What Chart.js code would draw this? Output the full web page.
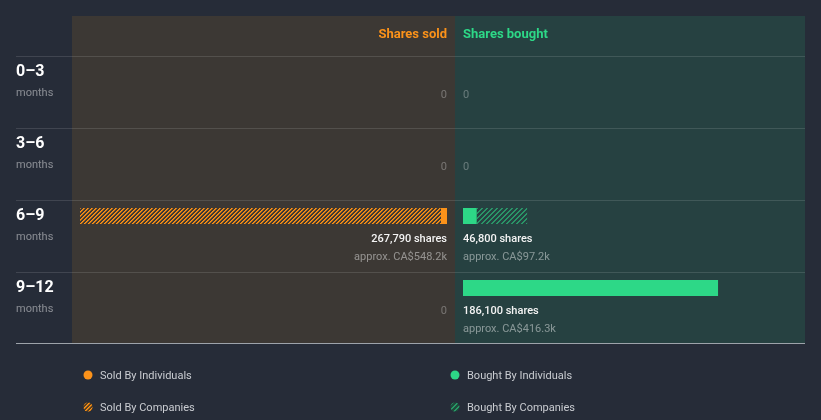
<!DOCTYPE html>
<html><head><meta charset="utf-8">
<script src="https://cdn.jsdelivr.net/npm/chart.js@4.4.1/dist/chart.umd.min.js"></script>
<style>
html,body{margin:0;padding:0;width:821px;height:420px;overflow:hidden;background:#262c38;}
#l{position:absolute;left:0;top:0;width:455px;height:420px;}
#r{position:absolute;left:440px;top:0;width:415px;height:420px;}
canvas{display:block;}
</style></head><body>
<div id="l"><canvas id="cl" width="455" height="420"></canvas></div>
<div id="r"><canvas id="cr" width="415" height="420"></canvas></div>
<script>
// ---- data ----
const periods = ['0–3', '3–6', '6–9', '9–12'];
const periodUnit = 'months';
const soldByIndividuals = [0, 0, 4400, 0];
const soldByCompanies = [0, 0, 263390, 0];
const boughtByIndividuals = [0, 0, 10000, 186100];
const boughtByCompanies = [0, 0, 36800, 0];
const soldValueCAD = [0, 0, 548200, 0];
const boughtValueCAD = [0, 0, 97200, 416300];
const legendLabels = ['Sold By Individuals', 'Sold By Companies', 'Bought By Individuals', 'Bought By Companies'];

// ---- styles ----
const ORANGE = '#fb921a';
const GREEN = '#2dd887';
const FONT = 'Roboto, "Noto Sans", sans-serif';

function makePattern(rgb, size, alphas) {
  const c = document.createElement('canvas');
  c.width = size; c.height = size;
  const g = c.getContext('2d');
  for (let k = 0; k < size; k++) {
    alphas.forEach((a, t) => {
      g.fillStyle = 'rgba(' + rgb + ',' + a + ')';
      g.fillRect((size - 1 - k + t) % size, k, 1, 1);
    });
  }
  return g.createPattern(c, 'repeat');
}
const orangeHatch = makePattern('255,146,20', 4, [1, 0.7]);
const greenHatch = makePattern('45,216,135', 5, [0.55, 0.55]);

const totalsSold = periods.map((_, i) => soldByIndividuals[i] + soldByCompanies[i]);
const totalsBought = periods.map((_, i) => boughtByIndividuals[i] + boughtByCompanies[i]);
const maxShares = Math.max(...totalsSold, ...totalsBought);

function fmtValue(v) { return 'approx. CA$' + (v / 1000).toFixed(1) + 'k'; }
function nz(arr) { return arr.map(v => (v === 0 ? null : v)); }

function decoPlugin(side) {
  const sold = side === 'sold';
  return {
    id: 'deco_' + side,
    beforeDatasetsDraw(chart) {
      const ctx = chart.ctx;
      const ys = chart.scales.y;
      const ca = chart.chartArea;
      const tops = periods.map((_, i) => ys.getPixelForValue(i) - 16);
      const panelL = ca.left - 8;
      const panelR = sold ? ca.right + 8 : ca.left + 342;
      const top = tops[0] - 40;
      const bottom = tops[3] + 71;
      ctx.save();
      ctx.fillStyle = sold ? '#3c3834' : '#264141';
      ctx.fillRect(panelL, top, panelR - panelL, bottom - top);
      // row lines
      ctx.strokeStyle = 'rgba(255,255,255,0.12)';
      ctx.lineWidth = 1;
      const lineL = sold ? 16 : panelL;
      tops.forEach(t => {
        ctx.beginPath(); ctx.moveTo(lineL, t + 0.5); ctx.lineTo(panelR, t + 0.5); ctx.stroke();
      });
      ctx.strokeStyle = '#9da3aa';
      ctx.beginPath(); ctx.moveTo(lineL, bottom + 0.5); ctx.lineTo(panelR, bottom + 0.5); ctx.stroke();
      // header
      ctx.font = 'bold 13px ' + FONT;
      ctx.textBaseline = 'middle';
      if (sold) {
        ctx.fillStyle = ORANGE; ctx.textAlign = 'right';
        ctx.fillText('Shares sold', ca.right, top + 19);
      } else {
        ctx.fillStyle = GREEN; ctx.textAlign = 'left';
        ctx.fillText('Shares bought', ca.left, top + 19);
      }
      // row labels
      if (sold) {
        ctx.textAlign = 'left';
        tops.forEach((t, i) => {
          ctx.fillStyle = '#ffffff';
          ctx.font = 'bold 16px ' + FONT;
          ctx.fillText(periods[i], 16, t + 16);
          ctx.fillStyle = 'rgba(255,255,255,0.45)';
          ctx.font = '11px ' + FONT;
          ctx.fillText(periodUnit, 16, t + 37);
        });
      }
      // legend
      const lx = sold ? 88 : 15;
      const names = sold ? [legendLabels[0], legendLabels[1]] : [legendLabels[2], legendLabels[3]];
      const col = sold ? ORANGE : GREEN;
      const hatch = sold ? orangeHatch : greenHatch;
      [375, 407].forEach((yy, k) => {
        ctx.beginPath(); ctx.arc(lx, yy, 4.5, 0, Math.PI * 2);
        if (k === 0) { ctx.fillStyle = col; ctx.fill(); }
        else {
          ctx.fillStyle = sold ? '#5a4224' : '#1f4a3c'; ctx.fill();
          ctx.save(); ctx.clip(); ctx.fillStyle = hatch; ctx.fillRect(lx - 5, yy - 5, 10, 10); ctx.restore();
        }
        ctx.fillStyle = '#c9ccd1';
        ctx.font = '11px ' + FONT;
        ctx.textAlign = 'left';
        ctx.fillText(names[k], lx + 12, yy + 1);
      });
      ctx.restore();
    },
    afterDatasetsDraw(chart) {
      const ctx = chart.ctx;
      const ys = chart.scales.y;
      const ca = chart.chartArea;
      const totals = sold ? totalsSold : totalsBought;
      const vals = sold ? soldValueCAD : boughtValueCAD;
      const x = sold ? ca.right : ca.left;
      ctx.save();
      ctx.textAlign = sold ? 'right' : 'left';
      ctx.textBaseline = 'middle';
      periods.forEach((_, i) => {
        const yc = ys.getPixelForValue(i);
        if (totals[i] === 0) {
          ctx.fillStyle = 'rgba(255,255,255,0.3)';
          ctx.font = '11px ' + FONT;
          ctx.fillText('0', x, yc + 23);
        } else {
          ctx.fillStyle = '#f4f4f4';
          ctx.font = '500 11px ' + FONT;
          ctx.fillText(totals[i].toLocaleString('en-US') + ' shares', x, yc + 23);
          ctx.fillStyle = 'rgba(255,255,255,0.45)';
          ctx.font = '11px ' + FONT;
          ctx.fillText(fmtValue(vals[i]), x, yc + 41);
        }
      });
      ctx.restore();
    }
  };
}

function makeChart(id, side) {
  const sold = side === 'sold';
  const datasets = sold ? [
    { label: legendLabels[0], data: nz(soldByIndividuals), backgroundColor: ORANGE, stack: 's' },
    { label: legendLabels[1], data: nz(soldByCompanies), backgroundColor: orangeHatch, stack: 's' }
  ] : [
    { label: legendLabels[2], data: nz(boughtByIndividuals), backgroundColor: GREEN, stack: 'b' },
    { label: legendLabels[3], data: nz(boughtByCompanies), backgroundColor: greenHatch, stack: 'b' }
  ];
  datasets.forEach(d => { d.barThickness = 16; d.borderWidth = 0; d.borderSkipped = false; d.inflateAmount = 0; });
  return new Chart(document.getElementById(id), {
    type: 'bar',
    data: { labels: periods, datasets },
    options: {
      indexAxis: 'y',
      responsive: false,
      animation: false,
      devicePixelRatio: 1,
      layout: { padding: sold ? { left: 80, right: 8, top: 36, bottom: 96 } : { left: 23, right: 25, top: 36, bottom: 96 } },
      plugins: { legend: { display: false }, tooltip: { enabled: false } },
      scales: {
        x: { type: 'linear', min: 0, max: maxShares, reverse: sold, stacked: true, display: false },
        y: { type: 'category', stacked: true, display: false, offset: true }
      }
    },
    plugins: [decoPlugin(side)]
  });
}
makeChart('cl', 'sold');
makeChart('cr', 'bought');
</script>
</body></html>
